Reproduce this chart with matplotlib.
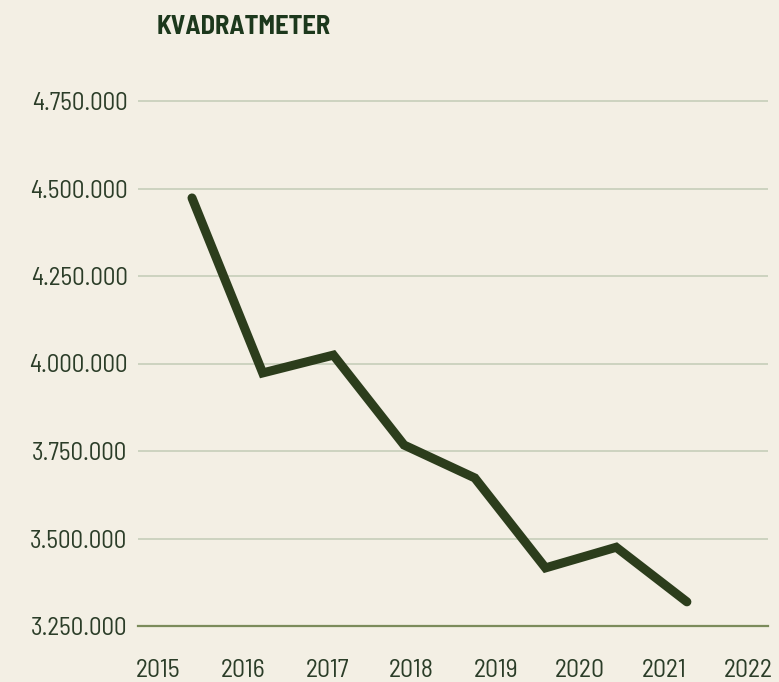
import matplotlib
matplotlib.use("Agg")
import matplotlib.pyplot as plt
import matplotlib.ticker as mticker
import numpy as np

years = ["2015", "2016", "2017", "2018", "2019", "2020", "2021", "2022"]
values = [4473000, 3973000, 4024000, 3767000, 3673000, 3416000, 3475000, 3319000]
yticks = [3250000, 3500000, 3750000, 4000000, 4250000, 4500000, 4750000]
title = "KVADRATMETER"

BG = "#f3efe4"
LINE = "#2c3d1c"
GRID = "#ccd3bf"
BASE = "#7b8b5b"
TXT = "#2b3d28"
FONT = ["Barlow Semi Condensed", "DejaVu Sans"]

W, H = 779, 682
fig = plt.figure(figsize=(W / 100, H / 100), dpi=100, facecolor=BG)

left_px, right_px = 138, 768
bottom_px = 626
ymin, ymax = 3250000, 4780000
px_per_unit = 350 / 1e6
top_px = 101 - (ymax - 4750000) * px_per_unit
ax = fig.add_axes([left_px / W, (H - bottom_px) / H,
                   (right_px - left_px) / W, (bottom_px - top_px) / H])
ax.set_facecolor(BG)

x0_px, dx_px = 192, 70.7
idx = np.arange(len(values))
ax.set_xlim((left_px - x0_px) / dx_px, (right_px - x0_px) / dx_px)
ax.set_ylim(ymin, ymax)

ax.plot(idx, values, color=LINE, lw=6.5, solid_capstyle="round",
        solid_joinstyle="miter", zorder=3)

ax.set_yticks(yticks)
ax.yaxis.set_major_formatter(mticker.FuncFormatter(lambda v, p: f"{int(v):,}".replace(",", ".")))
ax.grid(axis="y", color=GRID, lw=1.4, zorder=1)
for s in ["top", "right", "left"]:
    ax.spines[s].set_visible(False)
ax.spines["bottom"].set_color(BASE)
ax.spines["bottom"].set_linewidth(1.6)
ax.spines["bottom"].set_zorder(2)
ax.tick_params(axis="y", length=0, pad=7.5, labelsize=18, labelcolor=TXT)
ax.tick_params(axis="x", length=0, labelbottom=False)
for lab in ax.get_yticklabels():
    lab.set_family(FONT)

lab0_px, ldx_px = 158.5, 84.3
def idx2year(i):
    return 2015 + (x0_px + dx_px * np.asarray(i) - lab0_px) / ldx_px
def year2idx(y):
    return (lab0_px + ldx_px * (np.asarray(y) - 2015) - x0_px) / dx_px
sec = ax.secondary_xaxis("bottom", functions=(idx2year, year2idx))
sec.set_xticks([int(y) for y in years])
sec.set_xticklabels(years)
sec.tick_params(length=0, pad=24, labelsize=18.5, labelcolor=TXT)
sec.spines["bottom"].set_visible(False)
for lab in sec.get_xticklabels():
    lab.set_family(FONT)

fig.text(157 / W, 1 - 27 / H, title, ha="left", va="center", fontsize=19,
         fontweight="bold", color="#1c381c", family=FONT)

fig.savefig("out.png", dpi=100, facecolor=BG)
